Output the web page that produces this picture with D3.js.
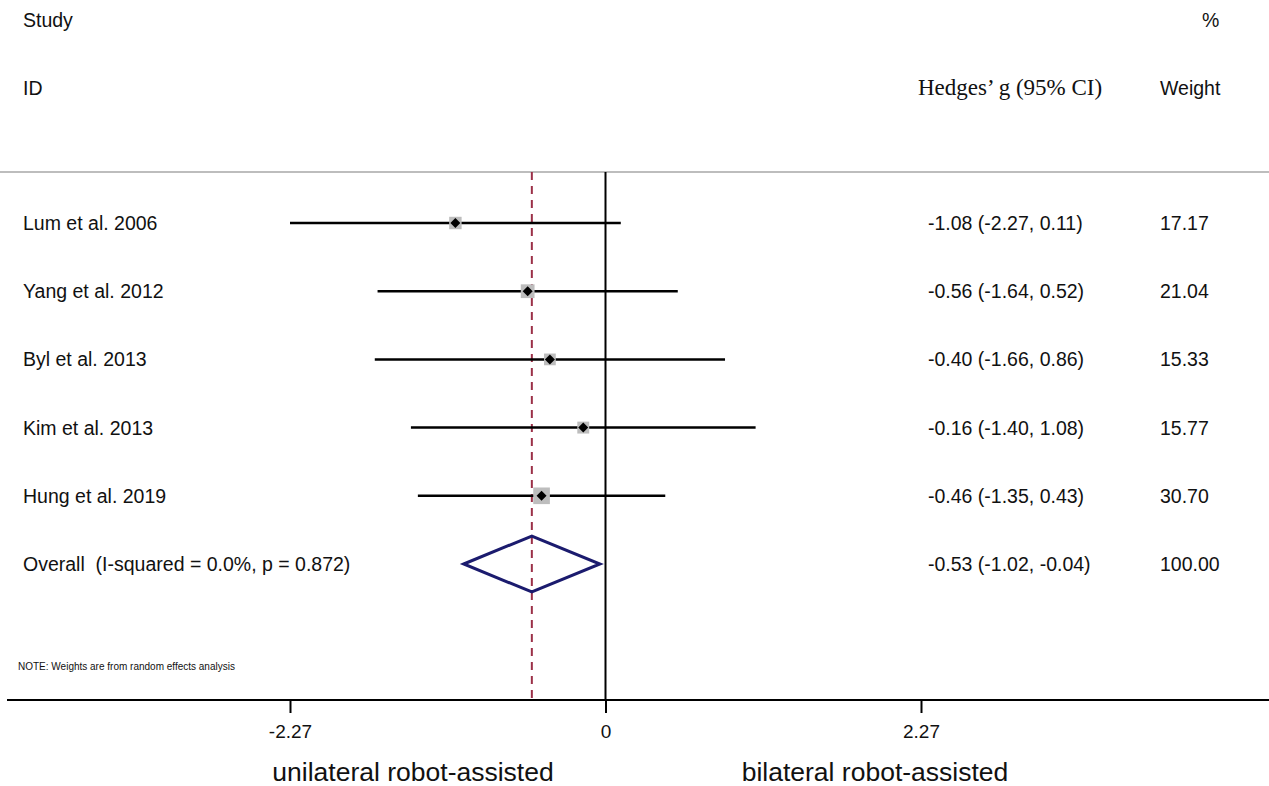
<!DOCTYPE html>
<html lang="en">
<head>
<meta charset="UTF-8">
<title>forest plot</title>
<script src="https://cdn.jsdelivr.net/npm/d3@7"></script>
<style>
  body { margin: 0; background: #fff; }
  text { font-family: "Liberation Sans", Arial, sans-serif; fill: #111; white-space: pre; }
  .serif { font-family: "Liberation Serif", "Times New Roman", serif; }
</style>
</head>
<body>
<svg id="svg" width="1269" height="786"></svg>
<script>
// data
var studies = ["Lum et al. 2006", "Yang et al. 2012", "Byl et al. 2013", "Kim et al. 2013", "Hung et al. 2019"];
var effect  = [-1.08, -0.56, -0.40, -0.16, -0.46];
var lower   = [-2.27, -1.64, -1.66, -1.40, -1.35];
var upper   = [ 0.11,  0.52,  0.86,  1.08,  0.43];
var weights = [17.17, 21.04, 15.33, 15.77, 30.70];
var overall = { label: "Overall  (I-squared = 0.0%, p = 0.872)", est: -0.53, lo: -1.02, hi: -0.04, weight: 100.00 };
var tickValues = [-2.27, 0, 2.27];

var svg = d3.select("#svg");

var x = d3.scaleLinear().domain([-2.27, 2.27]).range([290, 921]);
var rows = studies.concat([overall.label]);
var y = d3.scalePoint().domain(rows).range([223, 564]);

// plain hyphen instead of unicode minus, like the original
function fmt(v) { return v.toFixed(2); }

var fs = "19.5px";

// header
svg.append("text").attr("x", 23).attr("y", 27).style("font-size", fs).text("Study");
svg.append("text").attr("x", 23).attr("y", 95).style("font-size", fs).text("ID");
svg.append("text").attr("x", 1202).attr("y", 27).style("font-size", fs).text("%");
svg.append("text").attr("x", 1160).attr("y", 95).style("font-size", fs).text("Weight");
svg.append("text").attr("class", "serif").attr("x", 918).attr("y", 95)
  .style("font-size", "23px").text("Hedges\u2019 g (95% CI)");

// top rule
svg.append("line").attr("x1", 0).attr("x2", 1269).attr("y1", 172).attr("y2", 172)
  .attr("stroke", "#bdbdbd").attr("stroke-width", 2);

// null line and overall line
svg.append("line").attr("x1", x(0)).attr("x2", x(0)).attr("y1", 172).attr("y2", 700)
  .attr("stroke", "#000").attr("stroke-width", 2);
svg.append("line").attr("x1", x(overall.est)).attr("x2", x(overall.est)).attr("y1", 172).attr("y2", 700)
  .attr("stroke", "#9b3048").attr("stroke-width", 2).attr("stroke-dasharray", "8,6");

// studies
var g = svg.selectAll("g.study").data(studies).enter().append("g").attr("class", "study");

g.append("line")
  .attr("x1", function(d, i) { return x(lower[i]); })
  .attr("x2", function(d, i) { return x(upper[i]); })
  .attr("y1", function(d) { return y(d); })
  .attr("y2", function(d) { return y(d); })
  .attr("stroke", "#000").attr("stroke-width", 2.5);

g.append("rect")
  .attr("x", function(d, i) { return x(effect[i]) - 1.5 * Math.sqrt(weights[i]); })
  .attr("y", function(d, i) { return y(d) - 1.5 * Math.sqrt(weights[i]); })
  .attr("width", function(d, i) { return 3 * Math.sqrt(weights[i]); })
  .attr("height", function(d, i) { return 3 * Math.sqrt(weights[i]); })
  .attr("fill", "#bdbdbd");

g.append("path")
  .attr("d", function(d, i) {
    var cx = x(effect[i]), cy = y(d);
    return "M" + (cx - 5) + "," + cy + "L" + cx + "," + (cy - 5) + "L" + (cx + 5) + "," + cy + "L" + cx + "," + (cy + 5) + "Z";
  })
  .attr("fill", "#000");

g.append("text").attr("x", 23).attr("y", function(d) { return y(d) + 7; })
  .style("font-size", fs).text(function(d) { return d; });
g.append("text").attr("x", 928).attr("y", function(d) { return y(d) + 7; })
  .style("font-size", fs)
  .text(function(d, i) { return fmt(effect[i]) + " (" + fmt(lower[i]) + ", " + fmt(upper[i]) + ")"; });
g.append("text").attr("x", 1160).attr("y", function(d) { return y(d) + 7; })
  .style("font-size", fs).text(function(d, i) { return fmt(weights[i]); });

// overall diamond
var oy = y(overall.label);
svg.append("path")
  .attr("d", "M" + x(overall.lo) + "," + oy + "L" + x(overall.est) + "," + (oy - 28) +
             "L" + x(overall.hi) + "," + oy + "L" + x(overall.est) + "," + (oy + 28) + "Z")
  .attr("fill", "none").attr("stroke", "#1b1b6e").attr("stroke-width", 3);
svg.append("text").attr("x", 23).attr("y", oy + 7).style("font-size", fs).text(overall.label);
svg.append("text").attr("x", 928).attr("y", oy + 7).style("font-size", fs)
  .text(fmt(overall.est) + " (" + fmt(overall.lo) + ", " + fmt(overall.hi) + ")");
svg.append("text").attr("x", 1160).attr("y", oy + 7).style("font-size", fs).text(fmt(overall.weight));

svg.append("text").attr("x", 18).attr("y", 670).style("font-size", "10px")
  .text("NOTE: Weights are from random effects analysis");

// x axis
svg.append("line").attr("x1", 7).attr("x2", 1269).attr("y1", 700).attr("y2", 700)
  .attr("stroke", "#000").attr("stroke-width", 2);
var axis = d3.axisBottom(x).tickValues(tickValues).tickSize(13).tickPadding(12)
  .tickFormat(function(d) { return d === 0 ? "0" : fmt(d); });
var ax = svg.append("g").attr("transform", "translate(0,700)").call(axis);
ax.attr("font-size", null).attr("font-family", null);
ax.select(".domain").remove();
ax.selectAll(".tick line").attr("stroke", "#000").attr("stroke-width", 2);
ax.selectAll(".tick text").style("font-size", "19px").attr("fill", "#111");

svg.append("text").attr("x", 413).attr("y", 781).attr("text-anchor", "middle")
  .style("font-size", "26.5px").text("unilateral robot-assisted");
svg.append("text").attr("x", 875).attr("y", 781).attr("text-anchor", "middle")
  .style("font-size", "26.5px").text("bilateral robot-assisted");
</script>
</body>
</html>
